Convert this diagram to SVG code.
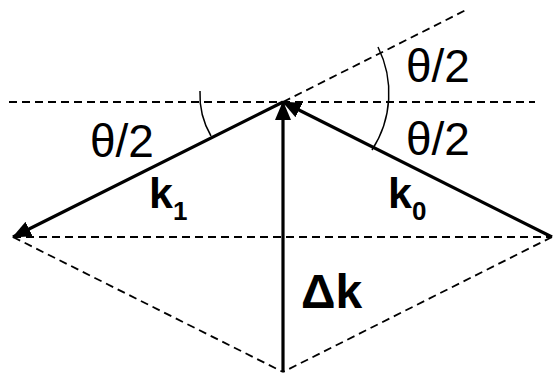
<svg xmlns="http://www.w3.org/2000/svg" width="553" height="375" viewBox="0 0 553 375">
<style>
.dash{fill:none;stroke:#000;stroke-width:1.8;stroke-dasharray:8 5}
.vec{fill:none;stroke:#000;stroke-width:3.2;marker-end:url(#ah)}
.arc{fill:none;stroke:#000;stroke-width:1.5}
.lbl{font-family:"Liberation Sans",Arial,sans-serif;font-size:46px;fill:#000}
.bold{font-family:"Liberation Sans",Arial,sans-serif;font-weight:bold;fill:#000}
</style>
<defs>
<marker id="ah" markerUnits="userSpaceOnUse" markerWidth="20" markerHeight="16" refX="18" refY="8" orient="auto">
<path d="M0,0 L19,8 L0,16 Z" fill="#000"/>
</marker>
</defs>
<rect width="553" height="375" fill="#fff"/>
<g id="guides">
<line class="dash" x1="9" y1="102" x2="535" y2="102"/>
<line class="dash" x1="13" y1="237" x2="552" y2="237"/>
<line class="dash" x1="283" y1="102" x2="466" y2="10"/>
<line class="dash" x1="13" y1="237" x2="283" y2="372"/>
<line class="dash" x1="552" y1="237" x2="283" y2="372"/>
</g>
<g id="arcs">
<path class="arc" d="M200,91 A82,82 0 0 0 211,136"/>
<path class="arc" d="M378,47 A104,104 0 0 1 372,150"/>
</g>
<g id="connectors">
<line id="k1" class="vec" x1="283" y1="102" x2="13" y2="237"/>
<line id="k0" class="vec" x1="552" y1="237" x2="283" y2="102"/>
<line id="dk" class="vec" x1="283" y1="372" x2="283" y2="102"/>
</g>
<g id="labels">
<text class="lbl" x="90" y="157">θ/2</text>
<text class="lbl" x="406" y="82">θ/2</text>
<text class="lbl" x="406" y="155">θ/2</text>
<text class="bold" x="149" y="208" font-size="43">k<tspan font-size="26" dy="12">1</tspan></text>
<text class="bold" x="388" y="208" font-size="43">k<tspan font-size="26" dy="12">0</tspan></text>
<text class="bold" x="301" y="308" font-size="48">Δk</text>
</g>
</svg>
